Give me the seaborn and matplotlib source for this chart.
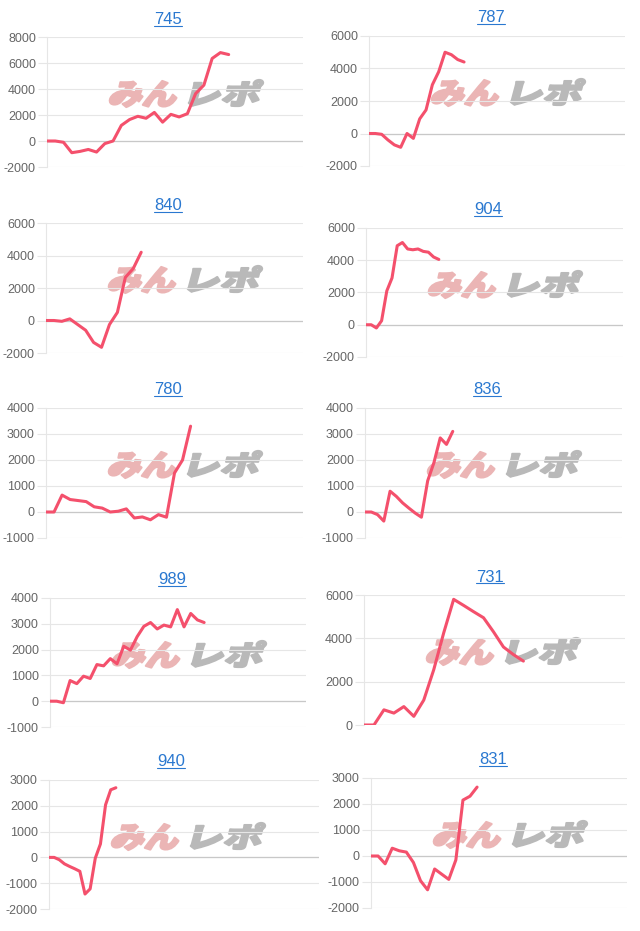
import pandas as pd
import seaborn as sns
import matplotlib.pyplot as plt
from matplotlib.lines import Line2D
from matplotlib.patches import PathPatch
from matplotlib.textpath import TextPath
from matplotlib.font_manager import FontProperties
from matplotlib.transforms import Affine2D


# Values (one list per machine)
titles = ['745', '787', '840', '904', '780', '836', '989', '731', '940', '831']

vals_745 = [0, 0, -100, -900, -800, -650, -850, -200, 0, 1200, 1650, 1900, 1750, 2200,
            1450, 2050, 1850, 2100, 3650, 4300, 6350, 6800, 6650]
vals_787 = [0, 0, -50, -400, -700, -850, 0, -300, 900, 1450, 3000, 3800, 5000, 4850, 4550, 4400]
vals_840 = [0, 0, -50, 100, -250, -600, -1350, -1650, -250, 500, 2650, 3200, 4200]
vals_904 = [0, 0, -200, 250, 2100, 2900, 4900, 5100, 4700, 4650, 4700, 4550, 4500, 4200, 4050]
vals_780 = [0, 0, 650, 480, 440, 400, 200, 150, 0, 30, 120, -230, -190, -300, -100, -200,
            1500, 2000, 3300]
vals_836 = [0, 0, -100, -350, 800, 600, 350, 150, -40, -200, 1200, 1900, 2850, 2600, 3100]
vals_989 = [0, 0, -60, 800, 680, 970, 880, 1420, 1370, 1650, 1450, 2130, 1980, 2500, 2900,
            3050, 2800, 2950, 2880, 3550, 2880, 3400, 3150, 3050]
vals_731 = [0, 0, 700, 550, 850, 400, 1150, 2550, 4250, 5800, 5520, 5230, 4950, 4300, 3600,
            3250, 2950]
vals_940 = [0, 0, -90, -250, -350, -440, -540, -1420, -1220, -30, 520, 2040, 2620, 2700]
vals_831 = [0, 0, -300, 300, 200, 150, -250, -950, -1300, -500, -700, -900, -150, 2150,
            2300, 2650]

series = [vals_745, vals_787, vals_840, vals_904, vals_780,
          vals_836, vals_989, vals_731, vals_940, vals_831]

y_min = [-2000, -2000, -2000, -2000, -1000, -1000, -1000, 0, -2000, -2000]
y_max = [8000, 6000, 6000, 6000, 4000, 4000, 4000, 6000, 3000, 3000]
y_step = [2000, 2000, 2000, 2000, 1000, 1000, 1000, 2000, 1000, 1000]

# Layout (pixels, top-left origin): plot box, x slots, title centre
W, H = 640, 931
boxes = [(47, 37, 303, 167), (369, 36, 625, 166),
         (46, 223, 303, 353), (366, 228, 623, 357),
         (46, 408, 303, 538), (365, 408, 622, 538),
         (50, 598, 306, 727), (364, 595, 625, 725),
         (49, 780, 319, 909), (371, 778, 627, 908)]
x_slots = [31, 40.4, 32.4, 49.4, 32, 41, 38.2, 26.2, 52.5, 36.2]
title_xy = [(168, 20), (491, 18), (168, 206), (488, 210), (168, 390),
            (487, 390), (172, 580), (490, 577), (171, 762), (493, 760)]

line_color = '#f4506c'
grid_color = '#e6e6e6'

sns.set_theme(style='white')
plt.rcParams['font.family'] = ['Liberation Sans', 'DejaVu Sans']
plt.rcParams['axes.unicode_minus'] = False

fig = plt.figure(figsize=(W / 100, H / 100), dpi=100)

for i, vals in enumerate(series):
    l, t, r, b = boxes[i]
    ax = fig.add_axes([l / W, 1 - b / H, (r - l) / W, (b - t) / H], zorder=2)
    ax.patch.set_visible(False)
    df = pd.DataFrame({'x': range(len(vals)), 'y': vals})
    sns.lineplot(data=df, x='x', y='y', ax=ax, color=line_color, linewidth=2.2,
                 solid_joinstyle='round', zorder=3)
    ax.set_xlim(0, x_slots[i])
    ax.set_ylim(y_min[i], y_max[i])
    ax.set_yticks(range(y_min[i], y_max[i] + 1, y_step[i]))
    ax.set_xticks([])
    ax.set_xlabel('')
    ax.set_ylabel('')
    ax.grid(axis='y', color=grid_color, linewidth=0.8)
    ax.axhline(0, color='#c8c8c8', linewidth=0.9, zorder=2)
    ax.tick_params(axis='y', length=6.5, width=0.8, color=grid_color, pad=1.5,
                   labelsize=9, labelcolor='#666666', left=True)
    for s in ['top', 'right', 'bottom']:
        ax.spines[s].set_visible(False)
    ax.spines['left'].set_color(grid_color)
    ax.spines['left'].set_linewidth(0.8)

    tx, ty = title_xy[i]
    fig.text(tx / W, 1 - ty / H, titles[i], ha='center', va='center',
             fontsize=12, color='#2a78d0')

# underline the titles
fig.canvas.draw()
renderer = fig.canvas.get_renderer()
for txt in fig.texts:
    bb = txt.get_window_extent(renderer)
    y = bb.y0 + 1.5
    fig.add_artist(Line2D([bb.x0 / W, bb.x1 / W], [y / H, y / H], color='#2a78d0',
                          linewidth=0.8, transform=fig.transFigure))

# watermark logo (drawn under the axes, pre-blended colours)
fp = FontProperties(family='Noto Sans CJK JP', weight='heavy')


def stamp(text, x0, x1, top, bottom, color):
    tp = TextPath((0, 0), text, size=1, prop=fp)
    ext = tp.get_extents()
    h = bottom - top
    w = (x1 - x0) - h * 0.27
    tr = (Affine2D().translate(-ext.x0, -ext.y0)
          .scale(w / ext.width, h / ext.height)
          .skew_deg(15, 0)
          .translate(x0, H - bottom)
          .scale(1 / W, 1 / H)) + fig.transFigure
    fig.add_artist(PathPatch(tp, transform=tr, facecolor=color, edgecolor=color,
                             linewidth=1.6, joinstyle='round', zorder=1))


for l, t, r, b in boxes:
    stamp('みん', l + 61, l + 134, t + 44, t + 70, '#ebb5b5')
    stamp('レポ', l + 141, l + 217, t + 43, t + 69, '#b9b9b9')

fig.savefig('out.png', dpi=100)
